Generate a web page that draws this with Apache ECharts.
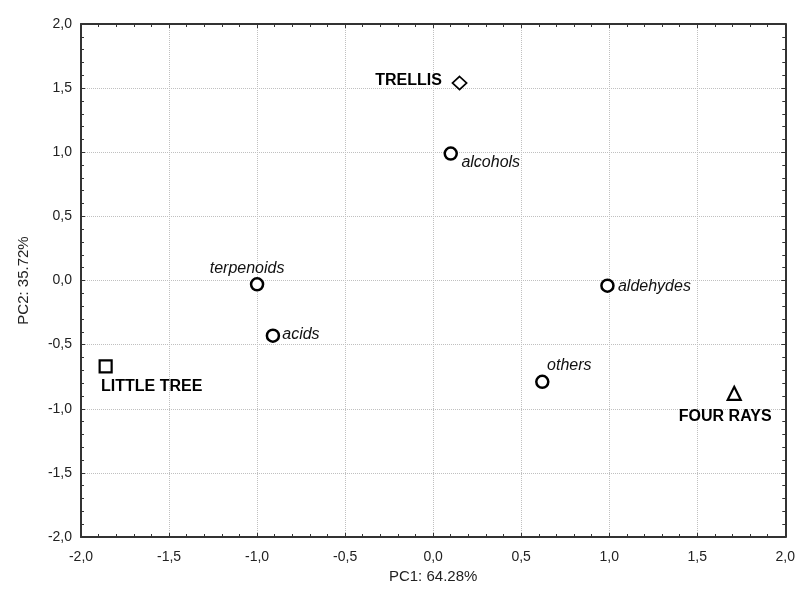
<!DOCTYPE html>
<html>
<head>
<meta charset="utf-8">
<script src="https://cdn.jsdelivr.net/npm/echarts@6/dist/echarts.min.js"></script>
<style>
html,body{margin:0;padding:0;background:#fff;}
#chart{width:798px;height:591px;}
</style>
</head>
<body>
<div id="chart"></div>
<script>
// Variables (italic, circles)
const varNames = ['alcohols', 'terpenoids', 'acids', 'aldehydes', 'others'];
const varPC1 = [0.10, -1.00, -0.91, 0.99, 0.62];
const varPC2 = [0.99, -0.03, -0.43, -0.04, -0.79];

// Samples (bold, distinct markers)
const sampleNames = ['TRELLIS', 'LITTLE TREE', 'FOUR RAYS'];
const samplePC1 = [0.15, -1.86, 1.71];
const samplePC2 = [1.54, -0.67, -0.88];

const axisMin = -2.0, axisMax = 2.0, axisStep = 0.5;
const xAxisName = 'PC1: 64.28%';
const yAxisName = 'PC2: 35.72%';

// label placement (style only)
const varLabelOffsets = {
  alcohols: [40, 9], terpenoids: [-10, -16], acids: [28, -1],
  aldehydes: [47, 1], others: [27, -16]
};
const sampleLabelOffsets = {
  'TRELLIS': [-51, -2], 'LITTLE TREE': [46, 20], 'FOUR RAYS': [-9, 23]
};
const sampleSymbols = {
  'TRELLIS': {symbol: 'diamond', size: [14, 13], bw: 1.8},
  'LITTLE TREE': {symbol: 'rect', size: [12, 12], bw: 2.2},
  'FOUR RAYS': {symbol: 'triangle', size: [13, 13], bw: 2.2}
};

const FONT = 'Arial, "Liberation Sans", sans-serif';
const fmt = v => v.toFixed(1).replace('.', ',');

const chart = echarts.init(document.getElementById('chart'), null, {renderer: 'canvas'});

function mkAxis(kind, position, main) {
  return {
    type: 'value', position: position,
    min: axisMin, max: axisMax, interval: axisStep,
    axisLine: {show: true, onZero: false, lineStyle: {color: '#333', width: 2}},
    axisTick: {show: true, inside: true, length: 4, lineStyle: {color: '#333', width: 1}},
    minorTick: {show: true, splitNumber: 5, length: 3, lineStyle: {color: '#333', width: 1}},
    axisLabel: main ? {show: true, formatter: fmt, color: '#222', fontSize: 14, fontFamily: FONT, margin: kind === 'x' ? 13 : 9} : {show: false},
    splitLine: main ? {show: true, lineStyle: {color: '#c0c0c0', type: 'dotted', width: 1}} : {show: false},
    name: main ? (kind === 'x' ? xAxisName : yAxisName) : '',
    nameLocation: 'middle',
    nameGap: kind === 'x' ? 32 : 50,
    nameTextStyle: {color: '#222', fontSize: 15, fontFamily: FONT}
  };
}

const varData = varNames.map((n, i) => ({
  name: n, value: [varPC1[i], varPC2[i]],
  label: {offset: varLabelOffsets[n]}
}));
const sampleData = sampleNames.map((n, i) => ({
  name: n, value: [samplePC1[i], samplePC2[i]],
  symbol: sampleSymbols[n].symbol, symbolSize: sampleSymbols[n].size,
  itemStyle: {borderWidth: sampleSymbols[n].bw},
  label: {offset: sampleLabelOffsets[n]}
}));

chart.setOption({
  animation: false,
  backgroundColor: '#fff',
  grid: {left: 81, right: 12, top: 24, bottom: 54},
  xAxis: [mkAxis('x', 'bottom', true), mkAxis('x', 'top', false)],
  yAxis: [mkAxis('y', 'left', true), mkAxis('y', 'right', false)],
  series: [
    {
      type: 'scatter', xAxisIndex: 0, yAxisIndex: 0,
      symbol: 'circle', symbolSize: 12,
      itemStyle: {color: '#fff', borderColor: '#000', borderWidth: 2.5, opacity: 1},
      label: {
        show: true, position: 'inside', formatter: p => p.name,
        color: '#111', fontStyle: 'italic', fontSize: 16, fontFamily: FONT,
        textBorderWidth: 0
      },
      data: varData, z: 5
    },
    {
      type: 'scatter', xAxisIndex: 0, yAxisIndex: 0,
      itemStyle: {color: '#fff', borderColor: '#000', borderWidth: 2, opacity: 1},
      label: {
        show: true, position: 'inside', formatter: p => p.name,
        color: '#000', fontWeight: 'bold', fontSize: 16, fontFamily: FONT,
        textBorderWidth: 0
      },
      data: sampleData, z: 5
    }
  ]
});
</script>
</body>
</html>
